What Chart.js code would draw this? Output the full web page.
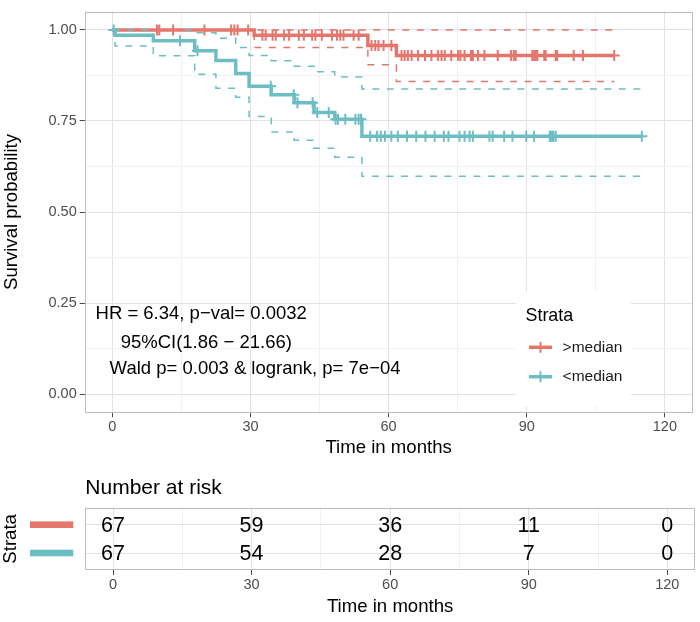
<!DOCTYPE html>
<html>
<head>
<meta charset="utf-8">
<script src="https://cdn.jsdelivr.net/npm/chart.js@4.4.1/dist/chart.umd.min.js"></script>
<style>
  html, body { margin: 0; padding: 0; background: #fff; }
  #wrap { position: relative; width: 700px; height: 622px; }
  #km { position: absolute; left: 0; top: 0; width: 700px; height: 462px; }
  #risk { position: absolute; left: 0; top: 462px; width: 700px; height: 160px; }
</style>
</head>
<body>
<div id="wrap">
  <canvas id="km" width="700" height="462"></canvas>
  <canvas id="risk" width="700" height="160"></canvas>
</div>
<script>
// strata
const strata = ['>median', '<median'];

// >median : step points (time, survival, upper, lower)
const hiTimes = [0, 30.8, 55.5, 61.7, 109];
const hiSurv  = [1.000, 0.985, 0.957, 0.930, 0.930];
const hiUpper = [1.000, 1.000, 1.000, 1.000, 1.000];
const hiLower = [1.000, 0.952, 0.904, 0.858, 0.858];
const hiCensor = [9.7, 10.2, 13.2, 20, 25.8, 26.5, 27.2, 29.5,
  32.6, 33.3, 34.8, 35.5, 37.3, 38.4, 40.5, 41.6, 43.4, 44.1, 45.5, 47.7, 48.8,
  49.5, 50.2, 52.4, 53.5, 56.3, 57.1, 57.8, 58.9,
  60.6, 62.8, 63.5, 64.2, 65, 66.4, 67.9, 69.3, 70.7, 71.5, 72.2, 73.6, 75.1, 75.6,
  76.5, 77.9, 78.3, 79.4, 80.8, 83.7, 86.6, 87.2, 87.6,
  91.2, 91.6, 92.0, 92.3, 93.8, 94.1, 96.3, 96.6, 100.2, 102.2, 109];

// <median
const loTimes = [0, 0.6, 8.9, 17.9, 22.5, 26.8, 29.7, 34.5, 39.5, 43.8, 48.3, 54.2, 115];
const loSurv  = [1.000, 0.985, 0.970, 0.943, 0.916, 0.880, 0.845, 0.822, 0.800, 0.773, 0.755, 0.708, 0.708];
const loUpper = [1.000, 1.000, 1.000, 0.992, 0.977, 0.952, 0.930, 0.915, 0.900, 0.885, 0.871, 0.838, 0.838];
const loLower = [1.000, 0.956, 0.929, 0.878, 0.840, 0.815, 0.762, 0.720, 0.697, 0.675, 0.650, 0.598, 0.598];
const loCensor = [0.3, 14.7, 18.5, 34.4, 39.4, 40.2, 43.5, 44.5, 47, 48.5, 49, 50.6, 52.8, 53.5, 54,
  56, 57.5, 58.3, 59.2, 60.6, 62, 64, 66, 68, 70, 72, 73,
  75.4, 76.5, 77.6, 78.3, 81.9, 82.6, 85.1, 86.9, 89.9,
  91.6, 95.0, 95.2, 95.5, 95.8, 96.3, 115];

// number at risk
const riskTimes = [0, 30, 60, 90, 120];
const riskHi = [67, 59, 36, 11, 0];
const riskLo = [67, 54, 28, 7, 0];

// axis ticks
const xGridTicks = [0, 15, 30, 45, 60, 75, 90, 105, 120];
const yGridTicks = [0, 0.125, 0.25, 0.375, 0.5, 0.625, 0.75, 0.875, 1];

// annotation (centre positions in data units)
const annText = ['HR = 6.34, p\u2212val= 0.0032', '95%CI(1.86 \u2212 21.66)', 'Wald p= 0.003 & logrank, p= 7e\u221204'];
const annX = [19.3, 20.4, 31.0];
const annY = [0.221, 0.141, 0.070];

const FONT = "'Liberation Sans', Arial, Helvetica, sans-serif";
const RED = '#E4766C';
const TEAL = '#6CBEC4';
const colours = [RED, TEAL];
Chart.defaults.font.family = FONT;

function steps(times, vals) {
  return times.map((t, i) => ({ x: t, y: vals[i] }));
}

function survAt(times, surv, t) {
  let s = surv[0];
  for (let i = 0; i < times.length; i++) {
    if (times[i] <= t) s = surv[i];
  }
  return s;
}

function censorPts(cens, times, surv) {
  return cens.map(t => ({ x: t, y: survAt(times, surv, t) }));
}

function curve(data, colour) {
  return { data, showLine: true, stepped: 'before', borderColor: colour, borderWidth: 3.5,
    pointRadius: 0, fill: false };
}
function ci(data, colour) {
  return { data, showLine: true, stepped: 'before', borderColor: colour, borderWidth: 1.5,
    borderDash: [7, 7.5], pointRadius: 0, fill: false };
}
function marks(data, colour) {
  return { data, showLine: false, pointStyle: 'cross', pointRadius: 5.5, pointBorderWidth: 2,
    pointBorderColor: colour, pointBackgroundColor: colour, pointHoverRadius: 5.5 };
}

function xScale(height, titlePad) {
  return {
    type: 'linear', min: -6, max: 126,
    afterBuildTicks: s => { s.ticks = xGridTicks.map(v => ({ value: v })); },
    afterFit: s => { s.height = height; },
    ticks: { callback: v => (v % 30 === 0 ? String(v) : ''), color: '#4D4D4D', font: { size: 14.5 },
      padding: 1, maxRotation: 0, autoSkip: false },
    grid: {
      color: ctx => (ctx.tick.value % 30 === 0 ? '#E2E2E2' : '#F1F1F1'),
      tickColor: ctx => (ctx.tick.value % 30 === 0 ? '#4D4D4D' : 'rgba(0,0,0,0)'),
      tickLength: 5, lineWidth: 1
    },
    border: { display: false },
    title: { display: true, text: 'Time in months', color: '#000', font: { size: 18.6 },
      padding: { top: 0, bottom: titlePad } }
  };
}

// panel border drawn over everything
const borderPlugin = {
  id: 'panelBorder',
  afterDraw(chart) {
    const a = chart.chartArea, c = chart.ctx;
    c.save();
    c.strokeStyle = '#BDBDBD';
    c.lineWidth = 1;
    c.strokeRect(Math.round(a.left) + 0.5, Math.round(a.top) + 0.5,
      Math.round(a.right - a.left) - 1, Math.round(a.bottom - a.top) - 1);
    c.restore();
  }
};

const kmExtras = {
  id: 'kmExtras',
  afterDatasetsDraw(chart) {
    const c = chart.ctx, xs = chart.scales.x, ys = chart.scales.y;
    c.save();
    // text annotation
    c.fillStyle = '#000';
    c.font = '18.5px ' + FONT;
    c.textAlign = 'center';
    c.textBaseline = 'middle';
    annText.forEach((t, i) => c.fillText(t, xs.getPixelForValue(annX[i]), ys.getPixelForValue(annY[i])));
    // legend
    c.fillStyle = '#fff';
    c.fillRect(516, 292, 115, 114);
    c.textAlign = 'left';
    c.fillStyle = '#000';
    c.font = '17.9px ' + FONT;
    c.fillText('Strata', 525.5, 316.5);
    c.font = '15.5px ' + FONT;
    strata.forEach((name, i) => {
      const y = 347.3 + i * 29.4;
      c.strokeStyle = colours[i];
      c.lineWidth = 3.5;
      c.beginPath(); c.moveTo(529, y); c.lineTo(552, y); c.stroke();
      c.lineWidth = 2;
      c.beginPath(); c.moveTo(540.5, y - 5.5); c.lineTo(540.5, y + 5.5); c.stroke();
      c.fillStyle = '#1A1A1A';
      c.fillText(name, 562.6, y);
    });
    c.restore();
  }
};

new Chart(document.getElementById('km'), {
  type: 'scatter',
  data: {
    datasets: [
      marks(censorPts(loCensor, loTimes, loSurv), TEAL),
      marks(censorPts(hiCensor, hiTimes, hiSurv), RED),
      ci(steps(loTimes, loUpper), TEAL),
      ci(steps(loTimes, loLower), TEAL),
      ci(steps(hiTimes, hiUpper), RED),
      ci(steps(hiTimes, hiLower), RED),
      curve(steps(loTimes, loSurv), TEAL),
      curve(steps(hiTimes, hiSurv), RED)
    ]
  },
  options: {
    responsive: false, animation: false, devicePixelRatio: 1,
    layout: { padding: { left: 0.7, right: 5.7, top: 3.5, bottom: 0 } },
    plugins: { legend: { display: false }, tooltip: { enabled: false } },
    scales: {
      x: xScale(462 - 412.3, 2.5),
      y: {
        type: 'linear', min: -0.05, max: 1.05,
        afterBuildTicks: s => { s.ticks = yGridTicks.map(v => ({ value: v })); },
        afterFit: s => { s.width = 84; },
        ticks: { callback: v => (v % 0.25 === 0 ? v.toFixed(2) : ''), color: '#4D4D4D',
          font: { size: 14.5 }, padding: 3 },
        grid: {
          color: ctx => (ctx.tick.value % 0.25 === 0 ? '#E2E2E2' : '#F1F1F1'),
          tickColor: ctx => (ctx.tick.value % 0.25 === 0 ? '#4D4D4D' : 'rgba(0,0,0,0)'),
          tickLength: 5, lineWidth: 1
        },
        border: { display: false },
        title: { display: true, text: 'Survival probability', color: '#000', font: { size: 18.6 },
          padding: { top: 0, bottom: 0 } }
      }
    }
  },
  plugins: [kmExtras, borderPlugin]
});

// risk table
const riskExtras = {
  id: 'riskExtras',
  afterDatasetsDraw(chart) {
    const c = chart.ctx, ys = chart.scales.y;
    c.save();
    c.fillStyle = '#000';
    c.font = '21.5px ' + FONT;
    c.textAlign = 'center';
    c.textBaseline = 'middle';
    chart.data.datasets.forEach((ds, di) => {
      const meta = chart.getDatasetMeta(di);
      meta.data.forEach((pt, i) => c.fillText(String(ds.data[i].n), pt.x, pt.y + 1));
    });
    c.textAlign = 'left';
    c.font = '21px ' + FONT;
    c.fillText('Number at risk', chart.chartArea.left, 26);
    strata.forEach((name, i) => {
      const y = ys.getPixelForValue(i + 1);
      c.fillStyle = colours[i];
      c.fillRect(30, y - 3.3, 43.3, 6.6);
    });
    c.restore();
  }
};

function riskData(counts, row) {
  return riskTimes.map((t, i) => ({ x: t, y: row, n: counts[i] }));
}

new Chart(document.getElementById('risk'), {
  type: 'scatter',
  data: {
    datasets: [
      { data: riskData(riskHi, 1), pointRadius: 0 },
      { data: riskData(riskLo, 2), pointRadius: 0 }
    ]
  },
  options: {
    responsive: false, animation: false, devicePixelRatio: 1,
    layout: { padding: { left: 0, right: 5, top: 45.7, bottom: 0 } },
    plugins: { legend: { display: false }, tooltip: { enabled: false } },
    scales: {
      x: xScale(160 - 108, 4.1),
      y: {
        type: 'linear', min: 0.4, max: 2.6, reverse: true,
        afterBuildTicks: s => { s.ticks = [1, 2].map(v => ({ value: v })); },
        afterFit: s => { s.width = 85.3; },
        ticks: { display: false },
        grid: { color: '#E2E2E2', drawTicks: false, lineWidth: 1 },
        border: { display: false },
        title: { display: true, text: 'Strata', color: '#000', font: { size: 18.6 },
          padding: { top: 0, bottom: 0 } }
      }
    }
  },
  plugins: [riskExtras, borderPlugin]
});
</script>
</body>
</html>
